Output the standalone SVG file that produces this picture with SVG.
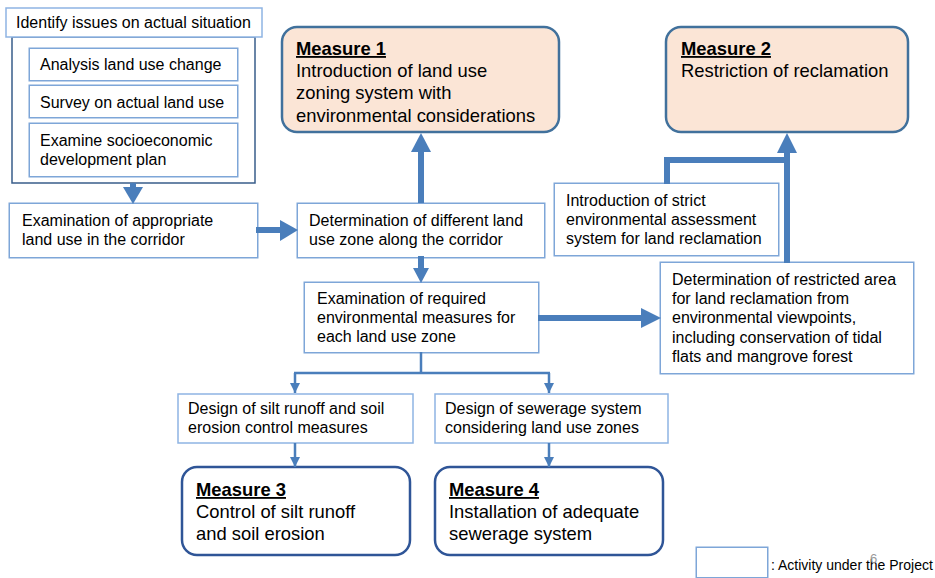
<svg xmlns="http://www.w3.org/2000/svg" width="935" height="578" viewBox="0 0 935 578">
<style>
  text { font-family: "Liberation Sans", Arial, sans-serif; fill: #000; }
  .t { font-size: 16px; }
  .m { font-size: 18.4px; }
  .mb { font-size: 18.4px; font-weight: bold; text-decoration: underline; }
  .dbl-o { fill: #fff; stroke: #7EA6D8; stroke-width: 5; }
  .dbl-i { fill: #fff; stroke: #fff; stroke-width: 2; }
  .single { fill: #fff; stroke: #8EB4E3; stroke-width: 1.5; }
  .outer { fill: #fff; stroke: #385D8A; stroke-width: 1.5; }
  .meas { fill: #FBE5D6; stroke: #41719C; stroke-width: 2.5; }
  .meas-w { fill: #fff; stroke: #2F5597; stroke-width: 2.5; }
  .thick { stroke: #4A7EBB; stroke-width: 6; fill: none; }
  .head { fill: #4A7EBB; }
  .thin { stroke: #4A7EBB; stroke-width: 2.5; fill: none; }
</style>
<defs>
  <marker id="ah" viewBox="0 0 10 10" refX="10" refY="5" markerWidth="4" markerHeight="4" orient="auto" markerUnits="strokeWidth">
    <path d="M0,0 L10,5 L0,10 Z" fill="#4A7EBB"/>
  </marker>
</defs>

<g id="identify">
  <rect class="outer" x="12" y="37" width="243" height="146"/>
  <rect class="single" x="6" y="8" width="256" height="29"/>
  <text class="t" x="16" y="28">Identify issues on actual situation</text>
</g>
<g id="analysis">
  <rect class="dbl-o" x="31" y="50" width="205" height="29"/>
  <rect class="dbl-i" x="31" y="50" width="205" height="29"/>
  <text class="t" x="40" y="70">Analysis land use change</text>
</g>
<g id="survey">
  <rect class="dbl-o" x="31" y="87" width="205" height="29"/>
  <rect class="dbl-i" x="31" y="87" width="205" height="29"/>
  <text class="t" x="40" y="108">Survey on actual land use</text>
</g>
<g id="examine">
  <rect class="dbl-o" x="31" y="125" width="205" height="50"/>
  <rect class="dbl-i" x="31" y="125" width="205" height="50"/>
  <text class="t" x="40" y="146">Examine socioeconomic</text>
  <text class="t" x="40" y="165">development plan</text>
</g>
<g id="exam-appropriate">
  <rect class="dbl-o" x="11" y="205" width="245" height="51"/>
  <rect class="dbl-i" x="11" y="205" width="245" height="51"/>
  <text class="t" x="22" y="226">Examination of appropriate</text>
  <text class="t" x="22" y="245">land use in the corridor</text>
</g>
<g id="determination-zone">
  <rect class="dbl-o" x="299" y="205" width="244" height="51"/>
  <rect class="dbl-i" x="299" y="205" width="244" height="51"/>
  <text class="t" x="309" y="226">Determination of different land</text>
  <text class="t" x="309" y="245">use zone along the corridor</text>
</g>
<g id="measure1">
  <rect class="meas" x="282" y="27" width="277" height="105" rx="15"/>
  <text class="mb" x="296" y="55">Measure 1</text>
  <text class="m" x="296" y="77">Introduction of land use</text>
  <text class="m" x="296" y="99">zoning system with</text>
  <text class="m" x="296" y="122">environmental considerations</text>
</g>
<g id="measure2">
  <rect class="meas" x="666" y="27" width="242" height="105" rx="15"/>
  <text class="mb" x="681" y="55">Measure 2</text>
  <text class="m" x="681" y="77">Restriction of reclamation</text>
</g>
<g id="intro-strict">
  <rect class="dbl-o" x="556" y="185" width="221" height="69"/>
  <rect class="dbl-i" x="556" y="185" width="221" height="69"/>
  <text class="t" x="566" y="206">Introduction of strict</text>
  <text class="t" x="566" y="225">environmental assessment</text>
  <text class="t" x="566" y="244">system for land reclamation</text>
</g>
<g id="restricted-area">
  <rect class="dbl-o" x="662" y="264" width="250" height="108"/>
  <rect class="dbl-i" x="662" y="264" width="250" height="108"/>
  <text class="t" x="672" y="285">Determination of restricted area</text>
  <text class="t" x="672" y="304">for land reclamation from</text>
  <text class="t" x="672" y="323">environmental viewpoints,</text>
  <text class="t" x="672" y="343">including conservation of tidal</text>
  <text class="t" x="672" y="362">flats and mangrove forest</text>
</g>
<g id="exam-required">
  <rect class="dbl-o" x="306" y="284" width="231" height="67"/>
  <rect class="dbl-i" x="306" y="284" width="231" height="67"/>
  <text class="t" x="317" y="304">Examination of required</text>
  <text class="t" x="317" y="323">environmental measures for</text>
  <text class="t" x="317" y="342">each land use zone</text>
</g>
<g id="design-silt">
  <rect class="single" x="178" y="394" width="235" height="49"/>
  <text class="t" x="188" y="414">Design of silt runoff and soil</text>
  <text class="t" x="188" y="433">erosion control measures</text>
</g>
<g id="design-sewerage">
  <rect class="single" x="435" y="394" width="233" height="49"/>
  <text class="t" x="445" y="414">Design of sewerage system</text>
  <text class="t" x="445" y="433">considering land use zones</text>
</g>
<g id="measure3">
  <rect class="meas-w" x="182" y="467" width="228" height="88" rx="15"/>
  <text class="mb" x="196" y="496">Measure 3</text>
  <text class="m" x="196" y="518">Control of silt runoff</text>
  <text class="m" x="196" y="540">and soil erosion</text>
</g>
<g id="measure4">
  <rect class="meas-w" x="435" y="467" width="228" height="88" rx="15"/>
  <text class="mb" x="449" y="496">Measure 4</text>
  <text class="m" x="449" y="518">Installation of adequate</text>
  <text class="m" x="449" y="540">sewerage system</text>
</g>
<g id="legend">
  <rect class="dbl-o" x="698" y="549" width="68" height="27"/>
  <rect class="dbl-i" x="698" y="549" width="68" height="27"/>
  <text x="771" y="570" style="font-size:14px">: Activity under the Project</text>
  <text x="870" y="563" style="font-size:13px;fill:#999">6</text>
</g>

<g id="connectors">
  <line class="thick" x1="133" y1="183" x2="133" y2="189"/>
  <polygon class="head" points="123,187 143,187 133,204"/>
  <line class="thick" x1="256" y1="230" x2="282" y2="230"/>
  <polygon class="head" points="280,220 280,241 298,230"/>
  <line class="thick" x1="421" y1="203" x2="421" y2="150"/>
  <polygon class="head" points="411,152 431,152 421,133"/>
  <line class="thick" x1="421" y1="256" x2="421" y2="270"/>
  <polygon class="head" points="413,268 429,268 421,283"/>
  <line class="thick" x1="538" y1="318" x2="643" y2="318"/>
  <polygon class="head" points="641,308 641,328 661,318"/>
  <line class="thick" x1="787" y1="263" x2="787" y2="151"/>
  <polygon class="head" points="777,153 797,153 787,133"/>
  <polyline class="thick" points="667,184 667,160 790,160"/>
  <line class="thin" x1="421" y1="352" x2="421" y2="373"/>
  <line class="thin" x1="294" y1="373" x2="550" y2="373"/>
  <line class="thin" x1="295" y1="373" x2="295" y2="393" marker-end="url(#ah)"/>
  <line class="thin" x1="549" y1="373" x2="549" y2="393" marker-end="url(#ah)"/>
  <line class="thin" x1="295" y1="443" x2="295" y2="467" marker-end="url(#ah)"/>
  <line class="thin" x1="549" y1="443" x2="549" y2="467" marker-end="url(#ah)"/>
</g>
</svg>
